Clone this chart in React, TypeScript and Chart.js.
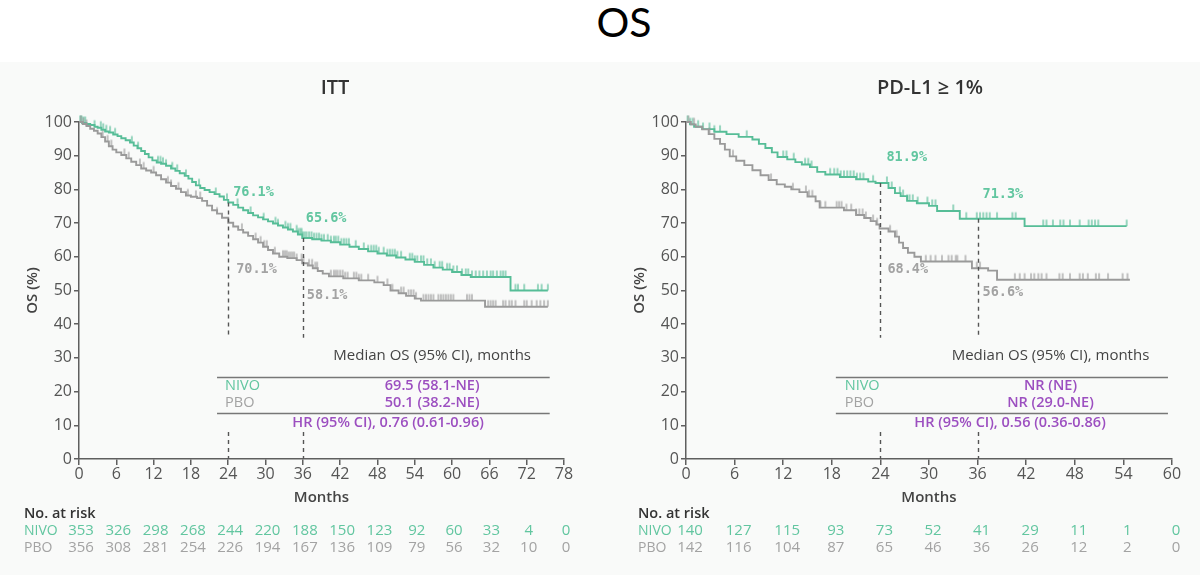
import React, { useEffect, useRef } from "react";
import { Chart, registerables } from "chart.js";

Chart.register(...registerables);

// ---------- colours & fonts ----------
const NIVO_LINE = "#56bd97";
const NIVO_TEXT = "#62c6a0";
const PBO_LINE = "#9a9a9a";
const PBO_TEXT = "#a3a3a3";
const PURPLE = "#9c4fc0";
const AXIS = "#5f5f5f";
const TICK_TEXT = "#555555";
const SANS = "'Open Sans', 'DejaVu Sans', sans-serif";
const MONO = "'DejaVu Sans Mono', monospace";

// ---------- ITT ----------
const ittNivoTimes = [0, 0.5, 1.2, 1.8, 2.5, 3.0, 3.6, 4.2, 4.8, 5.5, 6.2, 6.8, 7.5, 8.2, 8.8, 9.4, 10.0, 10.6, 11.2, 11.8, 12.5, 13.2, 14.0, 14.8, 15.5, 16.2, 17.0, 17.6, 18.2, 18.8, 19.5, 20.2, 21.0, 21.8, 22.6, 23.3, 24.0, 24.8, 25.6, 26.4, 27.2, 28.0, 28.8, 29.6, 30.4, 31.2, 32.0, 32.8, 33.6, 34.4, 35.2, 35.9, 37.5, 39.0, 40.5, 42.0, 43.5, 45.0, 46.5, 48.0, 49.5, 51.0, 52.5, 54.0, 55.5, 57.0, 58.5, 60.0, 61.5, 63.0, 69.4, 75.4];
const ittNivoSurv = [100, 99.7, 99.4, 99.1, 98.6, 98.3, 97.7, 97.2, 96.9, 96.3, 95.8, 95.2, 94.6, 93.9, 93.0, 92.2, 91.4, 90.5, 89.5, 88.6, 88.0, 87.6, 87.0, 86.2, 85.5, 84.8, 84.0, 83.2, 82.2, 81.2, 80.4, 79.8, 79.2, 78.6, 77.9, 76.9, 76.1, 75.4, 74.6, 73.8, 73.0, 72.3, 71.7, 71.1, 70.5, 69.9, 69.3, 68.7, 68.1, 67.5, 66.6, 65.6, 65.2, 64.8, 64.3, 63.6, 63.0, 62.3, 61.6, 61.0, 60.4, 59.8, 59.2, 58.5, 57.6, 56.8, 56.2, 55.5, 54.6, 54.0, 50.0, 50.0];
const ittNivoCensor = [0.2, 0.4, 0.7, 1.0, 2.5, 3.5, 3.9, 4.4, 5.0, 5.8, 8.5, 9.5, 12.7, 13.1, 13.5, 14.0, 15.0, 15.8, 17.2, 19.3, 22.0, 23.8, 25.5, 27.6, 29.7, 31.6, 32.0, 33.2, 33.6, 34.0, 35.0, 35.3, 35.6, 35.8, 36.0, 36.3, 36.6, 37.0, 37.4, 37.8, 38.2, 38.6, 39.0, 39.4, 40.0, 40.5, 41.0, 41.3, 41.7, 42.2, 42.6, 43.0, 43.4, 44.5, 45.8, 46.5, 47.0, 47.4, 47.8, 48.2, 49.0, 49.6, 50.0, 50.4, 50.8, 51.2, 51.8, 53.2, 53.6, 54.0, 54.4, 55.0, 55.4, 56.0, 56.6, 57.2, 58.0, 58.4, 59.2, 59.6, 60.2, 60.8, 61.6, 62.2, 62.6, 63.2, 63.8, 64.4, 65.0, 65.6, 66.2, 66.6, 67.2, 67.8, 68.2, 68.6, 70.2, 70.6, 71.6, 73.8, 74.4, 75.4];

const ittPboTimes = [0, 0.6, 1.2, 1.8, 2.4, 3.0, 3.6, 4.2, 4.8, 5.4, 6.0, 6.8, 7.6, 8.4, 9.2, 10.0, 10.8, 11.6, 12.4, 13.2, 14.0, 14.8, 15.6, 16.4, 17.2, 18.0, 19.0, 19.8, 20.6, 21.4, 22.2, 23.0, 24.0, 24.8, 25.6, 26.4, 27.2, 28.0, 28.8, 29.6, 30.4, 31.2, 32.2, 33.5, 35.0, 35.9, 36.8, 37.6, 38.4, 39.2, 40.2, 42.5, 45.0, 47.5, 49.0, 50.1, 51.4, 52.6, 54.0, 55.0, 65.3, 75.4];
const ittPboSurv = [100, 99.4, 98.8, 98.0, 97.4, 96.6, 95.5, 94.2, 92.8, 91.8, 91.0, 90.2, 89.2, 88.2, 87.2, 86.2, 85.6, 85.0, 84.2, 83.0, 82.0, 81.0, 80.2, 79.2, 78.2, 77.8, 77.4, 76.6, 75.2, 73.8, 72.8, 71.6, 70.1, 69.0, 68.0, 67.2, 66.2, 65.2, 64.2, 63.0, 62.0, 61.0, 60.0, 59.6, 59.0, 58.1, 57.4, 56.6, 55.8, 55.0, 54.2, 53.6, 53.0, 52.4, 51.6, 50.0, 49.2, 48.4, 47.6, 47.0, 45.2, 45.2];
const ittPboCensor = [0.3, 0.7, 1.2, 3.8, 4.6, 5.2, 7.3, 8.0, 9.8, 10.4, 12.0, 14.3, 14.8, 16.0, 17.5, 18.8, 19.5, 22.2, 26.2, 28.4, 29.2, 29.8, 30.2, 31.5, 32.8, 33.1, 33.4, 33.7, 34.0, 34.3, 34.6, 35.0, 35.8, 36.1, 37.0, 37.5, 38.0, 38.3, 40.5, 41.0, 41.3, 41.6, 42.0, 42.4, 42.8, 43.2, 44.2, 44.6, 45.0, 45.4, 46.5, 48.0, 49.6, 50.4, 51.8, 52.2, 53.0, 53.4, 53.8, 54.2, 55.4, 55.8, 56.2, 56.6, 57.0, 57.8, 58.2, 58.6, 59.0, 59.4, 59.8, 60.2, 62.4, 62.8, 63.2, 65.8, 66.2, 66.6, 67.0, 68.2, 68.6, 69.2, 69.6, 70.2, 71.6, 72.0, 72.8, 73.6, 74.2, 74.8, 75.4];

const ittLandmarkNivo = [76.1, 65.6];
const ittLandmarkPbo = [70.1, 58.1];
const ittMedians = ["69.5 (58.1-NE)", "50.1 (38.2-NE)"];
const ittHazard = "HR (95% CI), 0.76 (0.61-0.96)";
const ittRiskMonths = [0, 6, 12, 18, 24, 30, 36, 42, 48, 54, 60, 66, 72, 78];
const ittRiskNivo = [353, 326, 298, 268, 244, 220, 188, 150, 123, 92, 60, 33, 4, 0];
const ittRiskPbo = [356, 308, 281, 254, 226, 194, 167, 136, 109, 79, 56, 32, 10, 0];

// ---------- PD-L1 >= 1% ----------
const pdl1NivoTimes = [0, 0.5, 1.0, 2.0, 3.5, 5.0, 6.5, 8.2, 9.0, 9.8, 10.6, 11.3, 12.5, 13.5, 14.3, 15.3, 16.2, 17.2, 19.0, 21.0, 22.5, 23.4, 25.0, 25.8, 26.5, 27.3, 28.5, 30.0, 31.0, 33.8, 41.8, 54.4];
const pdl1NivoSurv = [100, 99.3, 98.6, 97.9, 97.1, 96.4, 95.6, 94.8, 93.5, 92.3, 91.0, 89.6, 88.9, 88.1, 87.4, 86.6, 85.2, 84.4, 83.7, 83.0, 82.3, 81.9, 80.4, 78.9, 78.0, 76.6, 75.9, 75.1, 73.6, 71.3, 69.1, 69.1];
const pdl1NivoCensor = [0.2, 0.5, 0.8, 1.5, 2.1, 2.9, 3.5, 4.2, 7.5, 12.0, 12.4, 13.3, 14.7, 15.1, 15.5, 17.8, 18.3, 18.7, 19.1, 19.5, 19.9, 20.3, 20.7, 21.1, 21.5, 21.9, 23.1, 24.8, 25.4, 26.4, 26.8, 27.3, 27.6, 28.0, 28.6, 29.8, 30.4, 30.8, 33.0, 34.6, 35.9, 36.3, 36.7, 37.1, 37.5, 38.4, 40.3, 40.7, 44.1, 44.5, 45.3, 46.2, 46.6, 47.4, 48.6, 49.7, 50.1, 50.5, 50.9, 54.4];

const pdl1PboTimes = [0, 0.6, 1.2, 2.0, 2.8, 3.5, 4.2, 4.8, 5.4, 6.2, 7.2, 8.2, 9.2, 10.2, 11.2, 12.2, 13.0, 14.0, 15.0, 16.0, 16.5, 19.5, 21.0, 22.0, 22.8, 23.5, 23.9, 25.0, 25.8, 26.3, 26.8, 27.4, 28.2, 29.0, 35.3, 37.3, 38.4, 54.8];
const pdl1PboSurv = [100, 99.3, 98.6, 97.8, 96.4, 95.0, 93.5, 91.8, 89.8, 88.5, 87.2, 85.7, 84.2, 82.8, 81.5, 80.8, 80.0, 79.2, 77.9, 76.5, 74.6, 73.8, 72.4, 71.5, 70.6, 69.6, 68.4, 67.5, 66.0, 64.2, 62.6, 61.2, 60.0, 58.6, 56.6, 55.9, 53.2, 53.2];
const pdl1PboCensor = [0.3, 1.0, 2.9, 5.8, 10.5, 13.2, 14.8, 15.2, 15.6, 16.6, 17.2, 18.6, 18.9, 19.2, 19.8, 20.4, 21.0, 21.4, 21.8, 22.2, 23.1, 23.6, 25.2, 26.0, 29.6, 30.2, 30.8, 31.6, 32.4, 32.8, 33.3, 33.5, 34.5, 35.9, 36.3, 40.6, 41.2, 41.8, 42.6, 43.0, 43.5, 43.9, 44.5, 46.1, 46.5, 47.4, 48.6, 49.0, 49.6, 50.6, 51.0, 52.1, 53.9, 54.5];

const pdl1LandmarkNivo = [81.9, 71.3];
const pdl1LandmarkPbo = [68.4, 56.6];
const pdl1Medians = ["NR (NE)", "NR (29.0-NE)"];
const pdl1Hazard = "HR (95% CI), 0.56 (0.36-0.86)";
const pdl1RiskMonths = [0, 6, 12, 18, 24, 30, 36, 42, 48, 54, 60];
const pdl1RiskNivo = [140, 127, 115, 93, 73, 52, 41, 29, 11, 1, 0];
const pdl1RiskPbo = [142, 116, 104, 87, 65, 46, 36, 26, 12, 2, 0];

const landmarkMonths = [24, 36];
const armNames = ["NIVO", "PBO"];

// ---------- helpers ----------
function survivalAt(times: number[], surv: number[], t: number) {
  let v = surv[0];
  for (let i = 0; i < times.length; i++) if (times[i] <= t) v = surv[i];
  return v;
}

function censorMark(color: string) {
  const c = document.createElement("canvas");
  c.width = 4;
  c.height = 16;
  const g = c.getContext("2d")!;
  g.strokeStyle = color;
  g.lineWidth = 1.2;
  g.beginPath();
  g.moveTo(2, 1.5);
  g.lineTo(2, 8);
  g.stroke();
  return c;
}

type Panel = {
  title: string;
  xMax: number;
  nivoTimes: number[]; nivoSurv: number[]; nivoCensor: number[];
  pboTimes: number[]; pboSurv: number[]; pboCensor: number[];
  landmarkNivo: number[]; landmarkPbo: number[];
  medians: string[]; hazard: string;
  riskMonths: number[]; riskNivo: number[]; riskPbo: number[];
  // layout
  yAxisWidth: number; padRight: number; titleX: number; riskLabelX: number; riskShift: number;
  nivoLabelOffsets: number[][]; pboLabelOffsets: number[][];
  tableFrom: number; tableTo: number; armLabelAt: number; medianAt: number; hazardAt: number;
};

const panels: Panel[] = [
  {
    title: "ITT", xMax: 78,
    nivoTimes: ittNivoTimes, nivoSurv: ittNivoSurv, nivoCensor: ittNivoCensor,
    pboTimes: ittPboTimes, pboSurv: ittPboSurv, pboCensor: ittPboCensor,
    landmarkNivo: ittLandmarkNivo, landmarkPbo: ittLandmarkPbo,
    medians: ittMedians, hazard: ittHazard,
    riskMonths: ittRiskMonths, riskNivo: ittRiskNivo, riskPbo: ittRiskPbo,
    yAxisWidth: 79, padRight: 36, titleX: 335, riskLabelX: 24, riskShift: 2,
    nivoLabelOffsets: [[5, -10], [3, -19]], pboLabelOffsets: [[8, 47], [4, 32]],
    tableFrom: 22.2, tableTo: 75.7, armLabelAt: 23.5, medianAt: 56.8, hazardAt: 49.7,
  },
  {
    title: "PD-L1 \u2265 1%", xMax: 60,
    nivoTimes: pdl1NivoTimes, nivoSurv: pdl1NivoSurv, nivoCensor: pdl1NivoCensor,
    pboTimes: pdl1PboTimes, pboSurv: pdl1PboSurv, pboCensor: pdl1PboCensor,
    landmarkNivo: pdl1LandmarkNivo, landmarkPbo: pdl1LandmarkPbo,
    medians: pdl1Medians, hazard: pdl1Hazard,
    riskMonths: pdl1RiskMonths, riskNivo: pdl1RiskNivo, riskPbo: pdl1RiskPbo,
    yAxisWidth: 86, padRight: 28, titleX: 330, riskLabelX: 38, riskShift: 4,
    nivoLabelOffsets: [[6, -25], [5, -24]], pboLabelOffsets: [[7, 41], [5, 24]],
    tableFrom: 18.5, tableTo: 59.5, armLabelAt: 19.6, medianAt: 45.0, hazardAt: 40.0,
  },
];

function overlay(p: Panel) {
  return {
    id: "kmOverlay",
    afterDraw(chart: any) {
      const { ctx, chartArea: a } = chart;
      const xs = chart.scales.x;
      const ys = chart.scales.y;
      const X = (m: number) => xs.getPixelForValue(m);
      const Y = (v: number) => ys.getPixelForValue(v);
      ctx.save();

      // panel heading
      ctx.fillStyle = "#333";
      ctx.font = `600 20px ${SANS}`;
      ctx.textAlign = "center";
      ctx.textBaseline = "middle";
      ctx.fillText(p.title, p.titleX, a.top - 34);

      // axis titles
      ctx.font = `600 15px ${SANS}`;
      ctx.fillStyle = "#444";
      ctx.fillText("Months", (a.left + a.right) / 2, a.bottom + 39);
      ctx.save();
      ctx.translate(a.left - 46, Y(50));
      ctx.rotate(-Math.PI / 2);
      ctx.fillText("OS (%)", 0, 0);
      ctx.restore();

      // landmark dashed lines
      ctx.strokeStyle = "#555";
      ctx.lineWidth = 1.4;
      ctx.setLineDash([4, 4]);
      landmarkMonths.forEach((m, i) => {
        const x = Math.round(X(m)) + 0.5;
        ctx.beginPath();
        ctx.moveTo(x, Y(p.landmarkNivo[i]));
        ctx.lineTo(x, Y(36));
        ctx.moveTo(x, Y(8));
        ctx.lineTo(x, Y(0));
        ctx.stroke();
      });
      ctx.setLineDash([]);

      // landmark values
      ctx.font = `bold 13.5px ${MONO}`;
      ctx.textAlign = "left";
      landmarkMonths.forEach((m, i) => {
        const [dxN, dyN] = p.nivoLabelOffsets[i];
        ctx.fillStyle = NIVO_TEXT;
        ctx.fillText(`${p.landmarkNivo[i].toFixed(1)}%`, X(m) + dxN, Y(p.landmarkNivo[i]) + dyN);
        const [dxP, dyP] = p.pboLabelOffsets[i];
        ctx.fillStyle = PBO_TEXT;
        ctx.fillText(`${p.landmarkPbo[i].toFixed(1)}%`, X(m) + dxP, Y(p.landmarkPbo[i]) + dyP);
      });

      // median table
      ctx.font = `500 15px ${SANS}`;
      ctx.textAlign = "center";
      ctx.fillStyle = "#444";
      ctx.fillText("Median OS (95% CI), months", X(p.medianAt), Y(30.6));
      ctx.strokeStyle = "#777";
      ctx.lineWidth = 1.5;
      [24.3, 13.6].forEach((v) => {
        const y = Math.round(Y(v)) + 0.5;
        ctx.beginPath();
        ctx.moveTo(X(p.tableFrom), y);
        ctx.lineTo(X(p.tableTo), y);
        ctx.stroke();
      });
      const rowVals = [21.7, 16.6];
      armNames.forEach((name, i) => {
        ctx.textAlign = "left";
        ctx.font = `14.5px ${SANS}`;
        ctx.fillStyle = i === 0 ? NIVO_TEXT : PBO_TEXT;
        ctx.fillText(name, X(p.armLabelAt), Y(rowVals[i]));
        ctx.textAlign = "center";
        ctx.font = `600 14.5px ${SANS}`;
        ctx.fillStyle = PURPLE;
        ctx.fillText(p.medians[i], X(p.medianAt), Y(rowVals[i]));
      });
      ctx.fillText(p.hazard, X(p.hazardAt), Y(10.7));

      // numbers at risk
      ctx.textAlign = "left";
      ctx.font = `600 14.5px ${SANS}`;
      ctx.fillStyle = "#333";
      ctx.fillText("No. at risk", p.riskLabelX, a.bottom + 55);
      const rows = [p.riskNivo, p.riskPbo];
      rows.forEach((vals, r) => {
        const y = a.bottom + 72 + r * 17;
        ctx.fillStyle = r === 0 ? NIVO_TEXT : PBO_TEXT;
        ctx.textAlign = "left";
        ctx.font = `14px ${SANS}`;
        ctx.fillText(armNames[r], p.riskLabelX, y);
        ctx.textAlign = "center";
        ctx.font = `15px ${SANS}`;
        vals.forEach((n, i) => ctx.fillText(String(n), X(p.riskMonths[i]) + p.riskShift, y));
      });
      ctx.restore();
    },
  };
}

function KMPanel({ p, left }: { p: Panel; left: number }) {
  const ref = useRef<HTMLCanvasElement>(null);
  useEffect(() => {
    const steps = (t: number[], s: number[]) => t.map((x, i) => ({ x, y: s[i] }));
    const marks = (c: number[], t: number[], s: number[]) => c.map((x) => ({ x, y: survivalAt(t, s, x) }));
    const tickFont = { family: SANS, size: 16 };
    const chart = new Chart(ref.current!, {
      type: "line",
      data: {
        datasets: [
          { data: steps(p.pboTimes, p.pboSurv), stepped: true, borderColor: PBO_LINE, borderWidth: 1.9, pointRadius: 0, fill: false, clip: 10 } as any,
          { data: marks(p.pboCensor, p.pboTimes, p.pboSurv), showLine: false, pointStyle: censorMark(PBO_LINE), pointRadius: 3, borderWidth: 0, clip: 10 } as any,
          { data: steps(p.nivoTimes, p.nivoSurv), stepped: true, borderColor: NIVO_LINE, borderWidth: 1.9, pointRadius: 0, fill: false, clip: 10 } as any,
          { data: marks(p.nivoCensor, p.nivoTimes, p.nivoSurv), showLine: false, pointStyle: censorMark(NIVO_LINE), pointRadius: 3, borderWidth: 0, clip: 10 } as any,
        ],
      },
      options: {
        responsive: false,
        animation: false,
        events: [],
        layout: { padding: { left: 0, right: p.padRight, top: 60, bottom: 76 } },
        plugins: { legend: { display: false }, tooltip: { enabled: false } },
        scales: {
          x: {
            type: "linear", min: 0, max: p.xMax,
            ticks: { stepSize: 6, color: TICK_TEXT, font: tickFont, padding: 0, maxRotation: 0, autoSkip: false },
            grid: { drawOnChartArea: false, drawTicks: true, tickLength: 6, color: AXIS, lineWidth: 1.5 },
            border: { color: AXIS, width: 1.5 },
            afterFit: (s: any) => { s.height = 40; },
          },
          y: {
            min: 0, max: 100,
            ticks: { stepSize: 10, color: TICK_TEXT, font: tickFont, padding: 2 },
            grid: { drawOnChartArea: false, drawTicks: true, tickLength: 5, color: AXIS, lineWidth: 1.5 },
            border: { color: AXIS, width: 1.5 },
            afterFit: (s: any) => { s.width = p.yAxisWidth; },
          },
        },
      } as any,
      plugins: [overlay(p)],
    });
    return () => chart.destroy();
  }, [p]);
  return (
    <canvas
      ref={ref}
      width={600}
      height={513}
      style={{ position: "absolute", left, top: 62, width: 600, height: 513 }}
    />
  );
}

export default function App() {
  return (
    <div style={{ position: "fixed", left: 0, top: 0, width: 1200, height: 575, background: "#ffffff", overflow: "hidden" }}>
      <div style={{ position: "absolute", left: 0, top: 62, width: 1200, height: 513, background: "#f9faf9" }} />
      <div
        style={{
          position: "absolute", left: 524, top: 0, width: 200, textAlign: "center",
          fontFamily: "Lato, 'Open Sans', sans-serif", fontSize: 41, lineHeight: "44px", color: "#000",
        }}
      >
        OS
      </div>
      <KMPanel p={panels[0]} left={0} />
      <KMPanel p={panels[1]} left={600} />
    </div>
  );
}
